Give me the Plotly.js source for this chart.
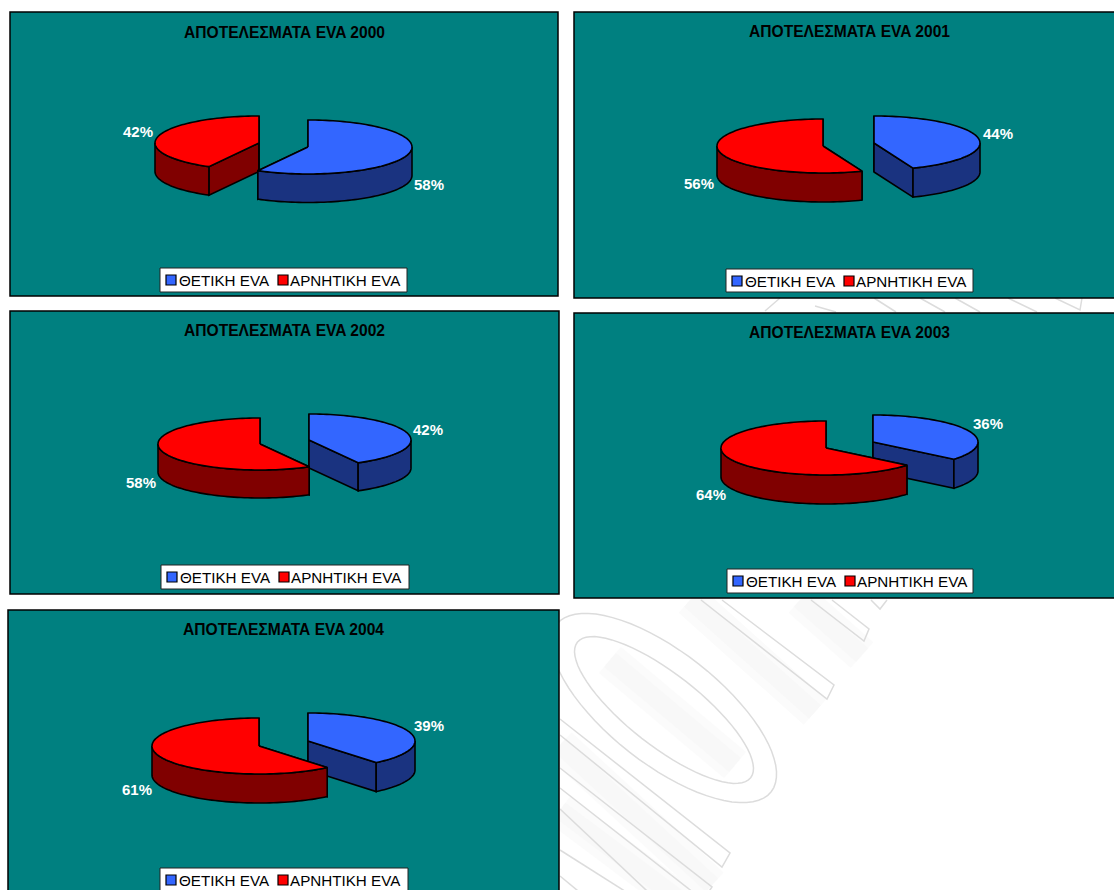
<!DOCTYPE html>
<html>
<head>
<meta charset="utf-8">
<script src="https://cdn.plot.ly/plotly-3.0.1.min.js"></script>
<style>html,body{margin:0;padding:0;background:#fff;overflow:hidden}#chart{width:1114px;height:890px}</style>
</head>
<body>
<div id="chart"></div>
<script>
// Shares of companies with positive and negative EVA, by year
const years = [2000, 2001, 2002, 2003, 2004];
const positiveShare = [58, 44, 42, 36, 39];
const negativeShare = [42, 56, 58, 64, 61];
const seriesNames = ['ΘΕΤΙΚΗ EVA', 'ΑΡΝΗΤΙΚΗ EVA'];
const titlePrefix = 'ΑΠΟΤΕΛΕΣΜΑΤΑ EVA ';

// Panel frames and the placement of each exploded pie
const frames = [
  {x0: 10, x1: 558, y0: 12, y1: 296, tx: 284, ty: 32, lx: 160, ly: 268, lw: 247, lh: 24},
  {x0: 574, x1: 1125, y0: 12, y1: 298, tx: 849, ty: 31, lx: 726, ly: 269, lw: 247, lh: 23},
  {x0: 10, x1: 559, y0: 311, y1: 594, tx: 284, ty: 330, lx: 161, ly: 565, lw: 248, lh: 24},
  {x0: 574, x1: 1125, y0: 313, y1: 598, tx: 849, ty: 332, lx: 727, ly: 569, lw: 246, lh: 24},
  {x0: 8, x1: 559, y0: 610, y1: 900, tx: 283, ty: 629, lx: 160, ly: 868, lw: 248, lh: 26}
];
const pies = [
  {pos: [308, 147], neg: [259, 143], rx: 104, ry: 27, depth: 28.5, posLabel: [429, 184], negLabel: [138, 131]},
  {pos: [874, 143], neg: [823, 146], rx: 106, ry: 27, depth: 29, posLabel: [998, 133], negLabel: [699, 183]},
  {pos: [309, 440], neg: [260, 444], rx: 102, ry: 26, depth: 28, posLabel: [428, 429], negLabel: [141, 482]},
  {pos: [873, 442], neg: [826, 448], rx: 105, ry: 27, depth: 29, posLabel: [988, 423], negLabel: [711, 494]},
  {pos: [308, 741], neg: [259, 746], rx: 107, ry: 28, depth: 29, posLabel: [429, 725], negLabel: [137, 789]}
];

const colors = {
  panel: '#008080', posTop: '#3366FF', posSide: '#1A3380', negTop: '#FF0000', negSide: '#800000'
};
const FONT = '"Liberation Sans", Arial, sans-serif';
const traces = [];

// Point on the tilted pie rim; theta runs clockwise from 12 o'clock, in degrees
function rim(c, p, theta, drop) {
  const t = theta * Math.PI / 180;
  return [c[0] + p.rx * Math.sin(t), c[1] - p.ry * Math.cos(t) + (drop || 0)];
}
function arc(c, p, from, to, drop) {
  const pts = [];
  const n = Math.max(2, Math.ceil(Math.abs(to - from) / 2));
  for (let i = 0; i <= n; i++) pts.push(rim(c, p, from + (to - from) * i / n, drop));
  return pts;
}
function addFace(pts, color, name) {
  const closed = pts.concat([pts[0]]);
  traces.push({
    type: 'scatter', mode: 'lines', x: closed.map(q => q[0]), y: closed.map(q => q[1]),
    fill: 'toself', fillcolor: color, line: {color: '#000', width: 1.6, simplify: false},
    name: name, showlegend: false, hoverinfo: 'name'
  });
}

// One slice: hidden and cut faces first, then the front wall, then the top
function addSlice(c, p, startPct, sharePct, top, side, name) {
  const a0 = startPct * 3.6, a1 = (startPct + sharePct) * 3.6;
  [a0, a1].forEach(a => {
    const r = rim(c, p, a), rd = rim(c, p, a, p.depth);
    addFace([c, r, rd, [c[0], c[1] + p.depth]], side, name);
  });
  const w0 = Math.max(a0, 90), w1 = Math.min(a1, 270);
  if (w1 > w0) addFace(arc(c, p, w0, w1).concat(arc(c, p, w1, w0, p.depth)), side, name);
  addFace([c].concat(arc(c, p, a0, a1)), top, name);
}

// The larger slice reaches forward past its neighbour, so it is painted last
years.forEach((y, i) => {
  const p = pies[i];
  const drawNeg = () => addSlice(p.neg, p, positiveShare[i], negativeShare[i], colors.negTop, colors.negSide, seriesNames[1]);
  const drawPos = () => addSlice(p.pos, p, 0, positiveShare[i], colors.posTop, colors.posSide, seriesNames[0]);
  if (positiveShare[i] > negativeShare[i]) { drawNeg(); drawPos(); } else { drawPos(); drawNeg(); }
});

// Background ornament of the page, sits beneath the panels
function tiltedEllipse(cx, cy, a, b, rot) {
  const r = rot * Math.PI / 180;
  let d = '';
  for (let k = 0; k <= 72; k++) {
    const t = k * 5 * Math.PI / 180;
    const u = a * Math.cos(t), v = b * Math.sin(t);
    d += (k ? 'L' : 'M') + (cx + u * Math.cos(r) - v * Math.sin(r)).toFixed(1) + ',' +
         (cy + u * Math.sin(r) + v * Math.cos(r)).toFixed(1);
  }
  return d + 'Z';
}
const ornamentSoft = [
  'M690,600L815,712', 'M800,600L862,655', 'M610,660L735,765', 'M560,745L712,885', 'M560,810L680,900'
];
const ornamentLines = [
  tiltedEllipse(664, 708, 136, 56, 38), tiltedEllipse(664, 710, 110, 36, 38),
  'M701,600L827,699L834,685L722,600', 'M811,600L864,641L869,629L832,600', 'M871,600L880,609L887,600',
  'M560,719L730,853L722,867L560,735', 'M560,768L712,887L703,900L560,788',
  'M560,809L662,905', 'M560,850L631,895', 'M560,876L595,905',
  'M765,311L780,298', 'M815,306L836,312', 'M874,298L896,312', 'M920,298L945,312',
  'M955,298L980,312', 'M1008,298L1037,312', 'M1055,298L1080,310L1082,298'
];

const shapes = [];
ornamentSoft.forEach(d => {
  shapes.push({type: 'path', path: d, layer: 'below', xref: 'x', yref: 'y', line: {color: '#fbfbfb', width: 34}});
  shapes.push({type: 'path', path: d, layer: 'below', xref: 'x', yref: 'y', line: {color: '#f8f8f8', width: 18}});
});
ornamentLines.forEach(d => shapes.push({type: 'path', path: d, layer: 'below', xref: 'x', yref: 'y',
  line: {color: '#dcdcdc', width: 1.5}}));

const annotations = [];
function addText(x, y, text, size, color, bold, anchor) {
  annotations.push({
    x: x, y: y, xref: 'x', yref: 'y', text: bold ? '<b>' + text + '</b>' : text, showarrow: false,
    xanchor: anchor || 'center', yanchor: 'middle', borderpad: 0,
    font: {family: FONT, size: size, color: color}
  });
}

frames.forEach((f, i) => {
  shapes.push({type: 'rect', layer: 'below', xref: 'x', yref: 'y', x0: f.x0, x1: f.x1, y0: f.y0, y1: f.y1,
    fillcolor: colors.panel, line: {color: '#000', width: 1.5}});
  addText(f.tx, f.ty, titlePrefix + years[i], 15.6, '#000', true);

  // Legend box with its two swatches
  shapes.push({type: 'rect', layer: 'above', xref: 'x', yref: 'y', x0: f.lx, x1: f.lx + f.lw, y0: f.ly, y1: f.ly + f.lh,
    fillcolor: '#fff', line: {color: '#222', width: 1}});
  const midY = f.ly + 12;
  [[6, colors.posTop], [118, colors.negTop]].forEach(s => {
    shapes.push({type: 'rect', layer: 'above', xref: 'x', yref: 'y', x0: f.lx + s[0], x1: f.lx + s[0] + 10,
      y0: midY - 5, y1: midY + 5, fillcolor: s[1], line: {color: '#000', width: 1.2}});
  });
  addText(f.lx + 18, midY, seriesNames[0], 15.2, '#000', false, 'left');
  addText(f.lx + 129, midY, seriesNames[1], 15.2, '#000', false, 'left');

  // Percentage labels
  const p = pies[i];
  addText(p.posLabel[0], p.posLabel[1], positiveShare[i] + '%', 15, '#fff', true);
  addText(p.negLabel[0], p.negLabel[1], negativeShare[i] + '%', 15, '#fff', true);
});

const layout = {
  width: 1114, height: 890, margin: {l: 0, r: 0, t: 0, b: 0},
  paper_bgcolor: '#fff', plot_bgcolor: 'rgba(0,0,0,0)', showlegend: false,
  xaxis: {range: [0, 1114], visible: false, fixedrange: true},
  yaxis: {range: [890, 0], visible: false, fixedrange: true},
  shapes: shapes, annotations: annotations
};
Plotly.newPlot('chart', traces, layout, {displayModeBar: false, responsive: false});
</script>
</body>
</html>
